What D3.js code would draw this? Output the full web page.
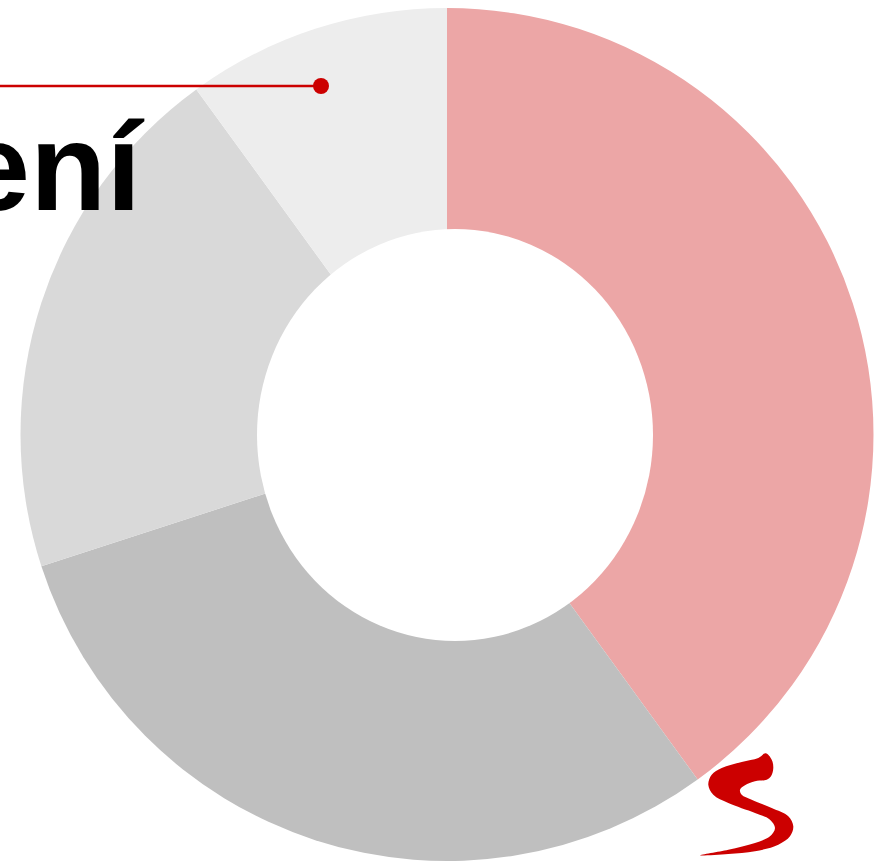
<!DOCTYPE html>
<html>
<head>
<meta charset="utf-8">
<script src="https://cdn.jsdelivr.net/npm/d3@7"></script>
<style>
  body { margin: 0; background: #fff; }
  svg { display: block; }
</style>
</head>
<body>
<div id="chart"></div>
<script>
// data (shares of the donut, clockwise from the top)
const categories = ["A", "B", "C", "D"];
const values = [40, 30, 20, 10];
const colors = ["#eca6a6", "#bfbfbf", "#d9d9d9", "#ededed"];

// decorative red swoosh (logo fragment) outline, page pixels
const swoosh = [
  [765.7, 753.3], [771.7, 759.7], [773.3, 768], [771, 776.3], [766.7, 779.7],
  [755, 781.3], [745, 785.3], [740, 789.7], [741.7, 794.7], [751.7, 799.7],
  [771.7, 808], [788.3, 816.3], [793.3, 826.3], [790, 836.3], [778.3, 844.7],
  [755, 851.3], [728.3, 854], [700, 855.3], [728.3, 849.7], [755, 843],
  [770, 836.3], [775, 828], [770, 819.7], [755, 813], [728.3, 803],
  [713.3, 794.7], [708.3, 784.7], [711.7, 774.7], [721.7, 768], [741.7, 762],
  [758.3, 758]
];

const width = 874, height = 862;
const cx = 447, cy = 434.5, outerR = 426.5;

const svg = d3.select("#chart")
    .append("svg")
    .attr("width", width)
    .attr("height", height);

// pie slices
const pie = d3.pie().sort(null).value(d => d);
const arc = d3.arc().innerRadius(0).outerRadius(outerR);

svg.append("g")
    .attr("transform", `translate(${cx},${cy})`)
    .selectAll("path")
    .data(pie(values))
    .enter()
    .append("path")
    .attr("d", arc)
    .attr("fill", (d, i) => colors[i]);

// the hole (slightly oval, as in the original)
svg.append("ellipse")
    .attr("cx", 455)
    .attr("cy", 435)
    .attr("rx", 198)
    .attr("ry", 206)
    .attr("fill", "#fff");

// title, mostly off the left edge
svg.append("text")
    .attr("x", 141)
    .attr("y", 210)
    .attr("text-anchor", "end")
    .style("font-family", "'Liberation Sans', Arial, sans-serif")
    .style("font-weight", "bold")
    .style("font-size", "125px")
    .attr("fill", "#000")
    .text("Rozložení");

// callout line with dot
svg.append("line")
    .attr("x1", 0).attr("y1", 86)
    .attr("x2", 321).attr("y2", 86)
    .attr("stroke", "#cc0000")
    .attr("stroke-width", 2.5);

svg.append("circle")
    .attr("cx", 321).attr("cy", 86)
    .attr("r", 8)
    .attr("fill", "#cc0000");

// swoosh
svg.append("path")
    .attr("d", d3.line().curve(d3.curveCatmullRomClosed)(swoosh))
    .attr("fill", "#cc0000");
</script>
</body>
</html>
